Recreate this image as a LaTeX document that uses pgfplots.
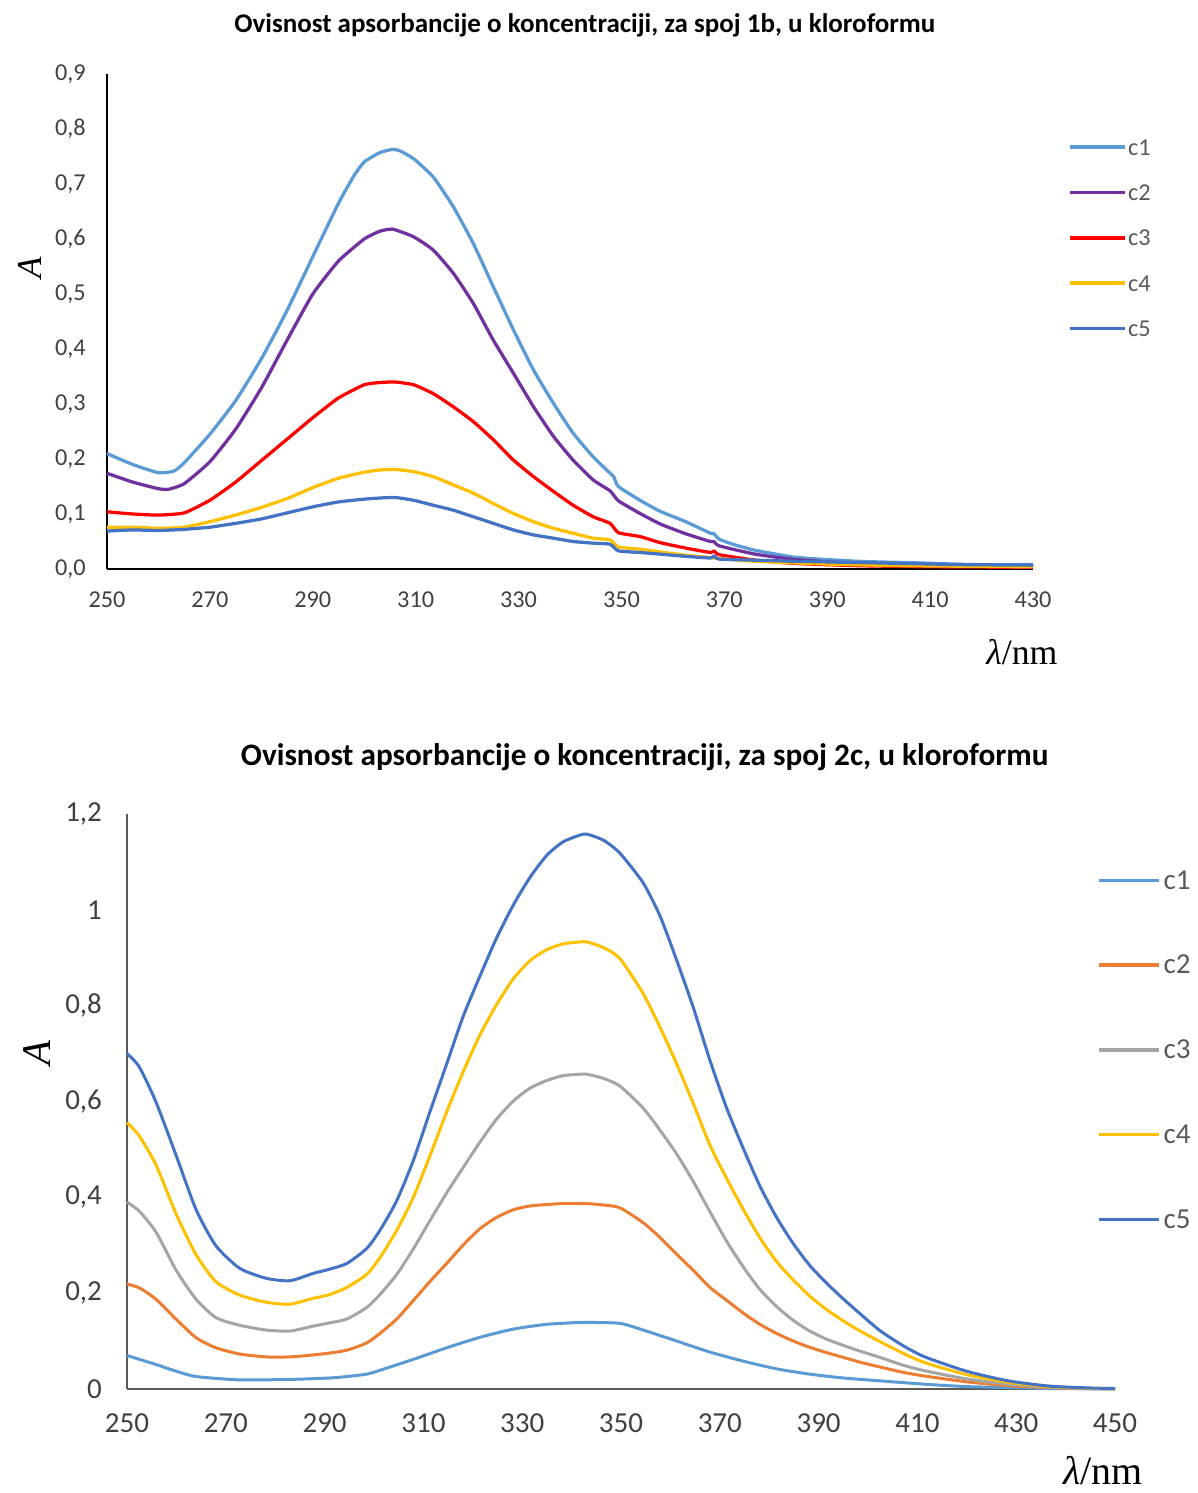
\documentclass[border=0pt]{standalone}
\usepackage{pgfplots}
\pgfplotsset{compat=1.18}
\usepackage{fontspec}
\setmainfont{Carlito}
\newfontfamily\serif{Liberation Serif}
\definecolor{cA}{HTML}{5B9BD5}
\definecolor{cP}{HTML}{7030A0}
\definecolor{cR}{HTML}{FF0000}
\definecolor{cY}{HTML}{FFC000}
\definecolor{cB}{HTML}{4472C4}
\definecolor{cO}{HTML}{ED7D31}
\definecolor{cG}{HTML}{A5A5A5}
\definecolor{tick}{HTML}{404040}
\definecolor{leg}{HTML}{595959}

\pgfplotstableread{
x y
250 0.210
255 0.190
260 0.175
263 0.178
265 0.193
270 0.245
275 0.306
280 0.382
285 0.470
290 0.568
295 0.665
298 0.715
300 0.740
303 0.757
305.5 0.763
307 0.760
309.6 0.746
313.4 0.713
317.3 0.659
321.2 0.592
325.1 0.513
329 0.435
332.9 0.362
336.8 0.301
340.6 0.247
344.5 0.204
347.8 0.174
348.5 0.168
349.4 0.150
353.6 0.125
357.5 0.105
362.5 0.086
367.3 0.065
368 0.064
369 0.054
372 0.044
376 0.034
384 0.021
396 0.014
408 0.011
418 0.008
430 0.008
}\topA
\pgfplotstableread{
x y
250 0.174
255 0.158
260 0.146
262 0.145
265 0.155
270 0.195
275 0.254
280 0.329
285 0.416
290 0.500
295 0.560
300 0.600
303 0.614
305.5 0.618
309.6 0.604
313.4 0.580
317.3 0.538
321.2 0.483
325.1 0.416
329 0.356
332.9 0.295
336.8 0.241
340.6 0.198
344.5 0.162
347.8 0.142
349.4 0.124
353.6 0.101
357.5 0.082
362.5 0.064
367.3 0.050
368 0.050
369 0.042
376 0.027
384 0.017
396 0.010
408 0.007
420 0.005
430 0.004
}\topB
\pgfplotstableread{
x y
250 0.104
255 0.100
260 0.098
265 0.102
270 0.125
275 0.158
280 0.197
285 0.236
290 0.275
295 0.311
300 0.335
303 0.339
306 0.340
309.6 0.335
313.4 0.319
317.3 0.295
321.2 0.268
325.1 0.235
329 0.198
332.9 0.168
336.8 0.141
340.6 0.116
344.5 0.095
347.8 0.083
349.4 0.066
353.6 0.059
357.5 0.048
362.5 0.038
367.3 0.030
368 0.033
369 0.026
376 0.016
384 0.010
396 0.006
410 0.004
430 0.003
}\topC
\pgfplotstableread{
x y
250 0.076
255 0.076
260 0.074
265 0.076
270 0.086
275 0.098
280 0.112
285 0.128
290 0.148
295 0.165
300 0.176
303 0.180
306 0.181
309.6 0.177
313.4 0.168
317.3 0.153
321.2 0.138
325.1 0.119
329 0.101
332.9 0.086
336.8 0.074
340.6 0.065
344.5 0.056
347.8 0.053
349.4 0.040
353.6 0.036
357.5 0.031
362.5 0.025
368 0.020
376 0.014
390 0.009
405 0.006
430 0.004
}\topD
\pgfplotstableread{
x y
250 0.069
255 0.071
260 0.070
265 0.072
270 0.076
275 0.083
280 0.091
285 0.102
290 0.113
295 0.122
300 0.127
303 0.129
306 0.130
309.6 0.125
313.4 0.116
317.3 0.107
321.2 0.095
325.1 0.083
329 0.071
332.9 0.062
336.8 0.056
340.6 0.050
344.5 0.047
347.8 0.045
349.4 0.033
353.6 0.030
357.5 0.027
362.5 0.023
367.3 0.020
368 0.024
369 0.018
376 0.016
384 0.014
400 0.011
416 0.008
430 0.007
}\topE

\pgfplotstableread{
x y
250 0.070
255.9 0.051
260 0.037
264 0.026
272.8 0.019
283 0.020
291 0.023
294.5 0.026
298.5 0.031
301.2 0.039
308 0.062
314.7 0.086
321.5 0.108
328.2 0.125
335 0.135
341.7 0.139
343.1 0.139
349.8 0.137
354.5 0.123
361.3 0.100
368 0.077
374.8 0.058
381.5 0.042
388.2 0.031
395 0.023
402.4 0.017
411.5 0.010
420 0.005
428.4 0.003
436.8 0.001
450 0.000
}\botA
\pgfplotstableread{
x y
250 0.219
252.5 0.211
255.9 0.187
260 0.145
264 0.107
268 0.086
272.8 0.073
278.2 0.067
283 0.067
287.6 0.071
291 0.075
294.5 0.081
298.5 0.096
301.2 0.116
304.6 0.146
308 0.185
311.3 0.224
314.7 0.262
318.1 0.301
321.5 0.335
324.8 0.358
328.2 0.374
331.6 0.382
335 0.385
338.3 0.387
341.7 0.387
343.1 0.387
346.5 0.384
349.8 0.378
354.5 0.347
357.9 0.316
361.3 0.281
364.7 0.247
368 0.212
371.4 0.185
374.8 0.158
378.1 0.135
381.5 0.116
384.9 0.100
388.2 0.087
391.6 0.076
395 0.066
398.4 0.056
402.4 0.046
407 0.035
411.5 0.027
420 0.015
428.4 0.007
436.8 0.003
445.3 0.001
450 0.000
}\botB
\pgfplotstableread{
x y
250 0.390
252.5 0.371
255.9 0.327
260 0.247
264 0.187
268 0.149
272.8 0.133
278.2 0.123
283 0.121
287.6 0.131
291 0.138
294.5 0.146
298.5 0.170
301.2 0.197
304.6 0.239
308 0.293
311.3 0.351
314.7 0.409
318.1 0.463
321.5 0.516
324.8 0.563
328.2 0.601
331.6 0.628
335 0.644
338.3 0.654
341.7 0.657
343.1 0.657
346.5 0.648
349.8 0.632
354.5 0.586
357.9 0.540
361.3 0.490
364.7 0.432
368 0.370
371.4 0.308
374.8 0.254
378.1 0.208
381.5 0.172
384.9 0.143
388.2 0.121
391.6 0.104
395 0.091
398.4 0.079
402.4 0.066
407 0.050
411.5 0.038
420 0.021
428.4 0.010
436.8 0.004
445.3 0.001
450 0.001
}\botC
\pgfplotstableread{
x y
250 0.556
252.5 0.528
255.9 0.467
260 0.364
264 0.280
268 0.224
272.8 0.196
278.2 0.181
283 0.177
287.6 0.189
291 0.197
294.5 0.212
298.5 0.239
301.2 0.274
304.6 0.331
308 0.401
311.3 0.486
314.7 0.578
318.1 0.663
321.5 0.740
324.8 0.802
328.2 0.856
331.6 0.894
335 0.917
338.3 0.929
341.7 0.933
343.1 0.933
346.5 0.921
349.8 0.898
354.5 0.825
357.9 0.755
361.3 0.678
364.7 0.594
368 0.509
371.4 0.439
374.8 0.374
378.1 0.316
381.5 0.266
384.9 0.227
388.2 0.194
391.6 0.166
395 0.142
398.4 0.121
402.4 0.099
407 0.075
411.5 0.055
420 0.030
428.4 0.014
436.8 0.005
445.3 0.0015
450 0.001
}\botD
\pgfplotstableread{
x y
250 0.700
252.5 0.672
255.9 0.598
260 0.486
264 0.374
268 0.299
272.8 0.252
278.2 0.231
283 0.226
287.6 0.241
291 0.250
294.5 0.262
298.5 0.293
301.2 0.331
304.6 0.393
308 0.478
311.3 0.578
314.7 0.678
318.1 0.779
321.5 0.863
324.8 0.941
328.2 1.010
331.6 1.068
335 1.114
338.3 1.142
341.7 1.156
343.1 1.158
346.5 1.145
349.8 1.118
354.5 1.056
357.9 0.987
361.3 0.894
364.7 0.794
368 0.686
371.4 0.586
374.8 0.501
378.1 0.424
381.5 0.358
384.9 0.303
388.2 0.258
391.6 0.221
395 0.188
398.4 0.157
402.4 0.122
407 0.091
411.5 0.067
420 0.037
428.4 0.017
436.8 0.006
445.3 0.002
450 0.001
}\botE

\begin{document}
\begin{tikzpicture}
\path[use as bounding box] (0,0) rectangle (479.2pt,597.2pt);
% ---------- top chart ----------
\begin{axis}[
  at={(42.8pt,369.6pt)}, anchor=south west,
  scale only axis, width=370.4pt, height=198pt,
  xmin=250, xmax=430, ymin=0, ymax=0.9,
  clip=false,
  axis lines=left,
  axis line style={-, black, line width=1pt},
  xtick={250,270,...,430},
  ytick={0,0.1,0.2,0.3,0.4,0.5,0.6,0.7,0.8,0.9},
  major tick length=0pt,
  /pgf/number format/assume math mode=true,
  tick label style={font=\fontsize{9.7}{11}\selectfont, text=tick},
  y tick label style={xshift=-5pt, /pgf/number format/.cd, fixed, fixed zerofill, precision=1, use comma, /tikz/.cd},
  x tick label style={yshift=-5.5pt, /pgf/number format/.cd, 1000 sep={}, /tikz/.cd},
  title={Ovisnost apsorbancije o koncentraciji, za spoj 1b, u kloroformu},
  title style={at={(axis description cs:0.516,1.099)}, anchor=center, yshift=-6pt, font=\bfseries\fontsize{10.8}{12}\selectfont},
  ylabel={\serif\itshape A},
  ylabel style={at={(axis description cs:-0.0832,0.608)}, anchor=center, rotate=0, font=\fontsize{14}{16}\selectfont},
  xlabel={{\serif\itshape λ}{\serif /nm}},
  xlabel style={at={(axis description cs:0.988,-0.168)}, anchor=center, font=\fontsize{14.3}{16}\selectfont},
  legend style={at={(axis description cs:1.037,0.6707)}, anchor=west, draw=none, fill=none, inner sep=0pt, row sep=11.15pt,
    nodes={inner xsep=0.6pt, inner ysep=0pt, text height=7pt, text depth=0pt, text=leg, font=\fontsize{9.7}{11}\selectfont}},
  legend cell align=left,
  legend image code/.code={\draw[#1, line width=1.5pt] (0pt,-0.3pt) -- (22pt,-0.3pt);},
  every axis plot/.append style={line width=1.3pt, line join=round, smooth, tension=0.3},
]
\addplot[cA] table {\topA}; \addlegendentry{c1}
\addplot[cP] table {\topB}; \addlegendentry{c2}
\addplot[cR] table {\topC}; \addlegendentry{c3}
\addplot[cY] table {\topD}; \addlegendentry{c4}
\addplot[cB] table {\topE}; \addlegendentry{c5}
\end{axis}
% ---------- bottom chart ----------
\begin{axis}[
  at={(50.8pt,41.6pt)}, anchor=south west,
  scale only axis, width=395.2pt, height=230pt,
  xmin=250, xmax=450, ymin=0, ymax=1.2,
  clip=false,
  axis lines=left,
  axis line style={-, leg, line width=0.8pt},
  xtick={250,270,...,450},
  ytick={0,0.2,0.4,0.6,0.8,1,1.2},
  major tick length=0pt,
  /pgf/number format/assume math mode=true,
  tick label style={font=\fontsize{11.6}{13}\selectfont, text=tick},
  y tick label style={xshift=-6.5pt, /pgf/number format/.cd, use comma, /tikz/.cd},
  x tick label style={yshift=-6.5pt, /pgf/number format/.cd, 1000 sep={}, /tikz/.cd},
  title={Ovisnost apsorbancije o koncentraciji, za spoj 2c, u kloroformu},
  title style={at={(axis description cs:0.524,1.099)}, anchor=center, yshift=-6pt, font=\bfseries\fontsize{12.5}{14}\selectfont},
  ylabel={\serif\itshape A},
  ylabel style={at={(axis description cs:-0.0911,0.584)}, anchor=center, rotate=0, font=\fontsize{16.3}{18}\selectfont},
  xlabel={{\serif\itshape λ}{\serif /nm}},
  xlabel style={at={(axis description cs:0.988,-0.142)}, anchor=center, font=\fontsize{16}{18}\selectfont},
  legend style={at={(axis description cs:0.982,0.592)}, anchor=west, draw=none, fill=none, inner sep=0pt, row sep=25.9pt,
    nodes={inner xsep=1pt, inner ysep=0pt, text height=8pt, text depth=0pt, text=leg, font=\fontsize{11.6}{13}\selectfont}},
  legend cell align=left,
  legend image code/.code={\draw[#1, line width=1.4pt] (0pt,-0.5pt) -- (24pt,-0.5pt);},
  every axis plot/.append style={line width=1.2pt, line join=round, smooth, tension=0.4},
]
\addplot[cA] table {\botA}; \addlegendentry{c1}
\addplot[cO] table {\botB}; \addlegendentry{c2}
\addplot[cG] table {\botC}; \addlegendentry{c3}
\addplot[cY] table {\botD}; \addlegendentry{c4}
\addplot[cB] table {\botE}; \addlegendentry{c5}
\end{axis}
\end{tikzpicture}
\end{document}
